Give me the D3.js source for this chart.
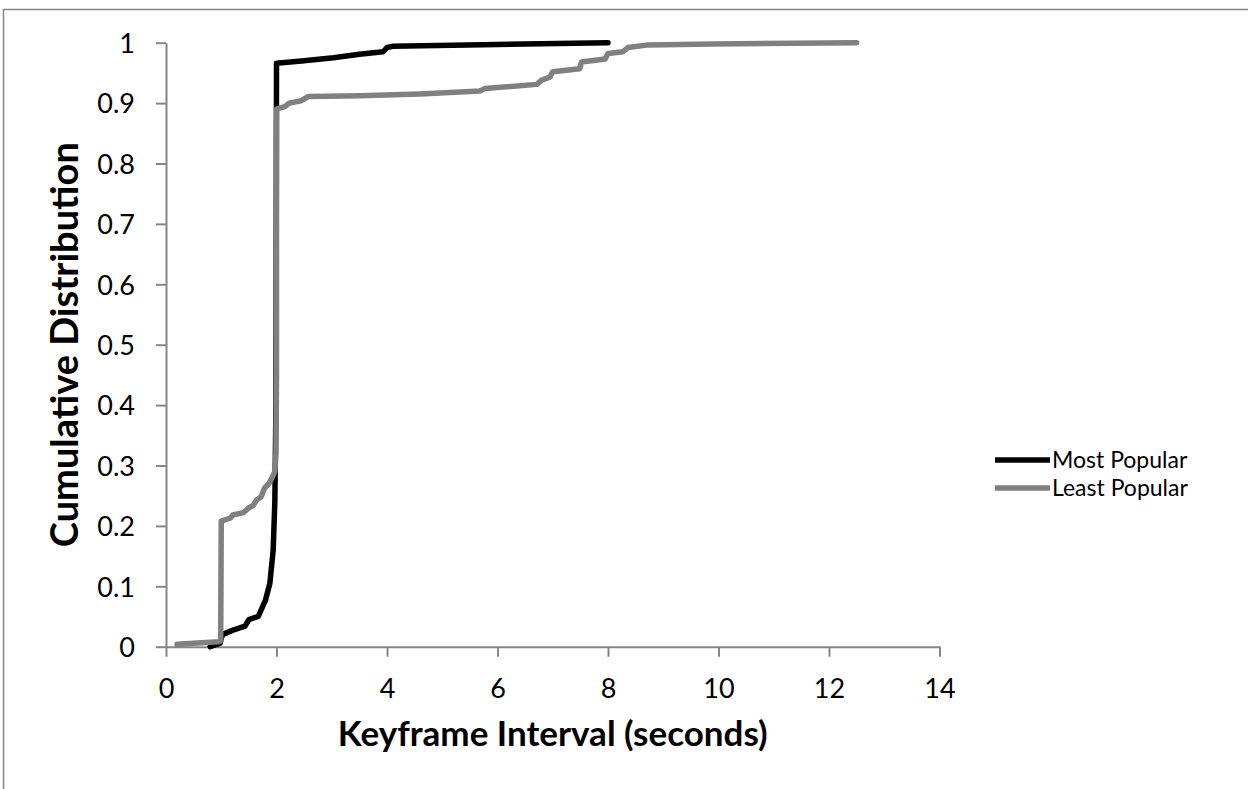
<!DOCTYPE html>
<html>

<head>
    <meta charset="UTF-8">
    <title>Keyframe Interval CDF</title>
    <style>
        body { margin: 0; background: #fff; }
        text { font-family: Lato, "Open Sans", sans-serif; fill: #000; }
    </style>
</head>

<body>

    <svg id="cdf"></svg>

    <script src="https://cdn.jsdelivr.net/npm/d3@7/dist/d3.min.js"></script>
    <script>
        const width = 1248;
        const height = 789;

        // series
        const seriesNames = ['Most Popular', 'Least Popular'];
        const mostX = [0.8, 0.98, 1.02, 1.2, 1.43, 1.5, 1.67, 1.8, 1.88, 1.94, 1.97, 1.99, 2.0, 2.5, 3.03, 3.5, 3.93, 4.0, 4.1, 6, 8];
        const mostY = [0.0, 0.006, 0.02, 0.027, 0.034, 0.045, 0.05, 0.077, 0.105, 0.16, 0.24, 0.4, 0.966, 0.97, 0.975, 0.981, 0.985, 0.992, 0.994, 0.997, 1.0];
        const leastX = [0.2, 0.95, 0.99, 1.0, 1.16, 1.21, 1.4, 1.5, 1.58, 1.64, 1.72, 1.78, 1.86, 1.92, 1.97, 1.99, 2.0, 2.0, 2.15, 2.23, 2.45, 2.58, 3.5, 4.6, 5.68, 5.77, 6.71, 6.8, 6.95, 7.0, 7.49, 7.52, 7.95, 8.0, 8.27, 8.36, 8.7, 9.9, 12.5];
        const leastY = [0.004, 0.008, 0.01, 0.208, 0.213, 0.218, 0.222, 0.23, 0.234, 0.243, 0.248, 0.262, 0.27, 0.28, 0.29, 0.32, 0.45, 0.89, 0.894, 0.9, 0.904, 0.911, 0.912, 0.915, 0.92, 0.924, 0.931, 0.938, 0.943, 0.952, 0.957, 0.968, 0.973, 0.982, 0.985, 0.992, 0.996, 0.998, 1.0];

        const xTicks = [0, 2, 4, 6, 8, 10, 12, 14];
        const yTicks = [0, 0.1, 0.2, 0.3, 0.4, 0.5, 0.6, 0.7, 0.8, 0.9, 1];
        const yTickLabels = ['0', '0.1', '0.2', '0.3', '0.4', '0.5', '0.6', '0.7', '0.8', '0.9', '1'];

        const axisColor = '#868686';
        const colors = ['#000000', '#808080'];

        const svg = d3.select('#cdf')
            .attr('width', width)
            .attr('height', height);

        // chart frame, runs off the right and bottom edges
        svg.append('rect')
            .attr('x', 3.5)
            .attr('y', 9.5)
            .attr('width', 1300)
            .attr('height', 900)
            .style('fill', 'none')
            .style('stroke', axisColor)
            .style('stroke-width', 1.5);

        const x = d3.scaleLinear().domain([0, 14]).range([166, 939.5]);
        const y = d3.scaleLinear().domain([0, 1]).range([646.7, 42.7]);

        const xAxis = svg.append('g')
            .attr('transform', 'translate(0,' + y(0) + ')')
            .call(d3.axisBottom(x).tickValues(xTicks).tickSize(10).tickSizeOuter(0));
        xAxis.selectAll('text')
            .attr('y', 51.5)
            .attr('dy', 0)
            .style('font-size', '27px');

        const yAxis = svg.append('g')
            .attr('transform', 'translate(' + x(0) + ',0)')
            .call(d3.axisLeft(y).tickValues(yTicks)
                .tickFormat((d, i) => yTickLabels[i])
                .tickSize(10).tickPadding(21).tickSizeOuter(0));
        yAxis.selectAll('text')
            .attr('dy', '0.36em')
            .style('font-size', '27px');

        svg.selectAll('.domain, .tick line')
            .style('stroke', axisColor)
            .style('stroke-width', 2);

        // lines
        const line = d3.line()
            .x(d => x(d[0]))
            .y(d => y(d[1]));

        const series = [
            d3.zip(mostX, mostY),
            d3.zip(leastX, leastY)
        ];

        svg.append('g')
            .selectAll('path')
            .data(series)
            .enter()
            .append('path')
            .attr('d', line)
            .style('fill', 'none')
            .style('stroke', (d, i) => colors[i])
            .style('stroke-width', 5.5)
            .style('stroke-linejoin', 'round')
            .style('stroke-linecap', 'round');

        // axis titles
        svg.append('text')
            .attr('x', (x(0) + x(14)) / 2)
            .attr('y', 746)
            .attr('text-anchor', 'middle')
            .style('font-size', '35px')
            .style('font-weight', 'bold')
            .text('Keyframe Interval (seconds)');

        svg.append('text')
            .attr('transform', 'translate(78,' + (y(0) + y(1)) / 2 + ') rotate(-90)')
            .attr('text-anchor', 'middle')
            .style('font-size', '38px')
            .style('font-weight', 'bold')
            .text('Cumulative Distribution');

        // legend
        const legend = svg.append('g')
            .selectAll('g')
            .data(seriesNames)
            .enter()
            .append('g')
            .attr('transform', (d, i) => 'translate(995,' + (460 + i * 28) + ')');

        legend.append('line')
            .attr('x1', 0)
            .attr('x2', 55)
            .style('stroke', (d, i) => colors[i])
            .style('stroke-width', 5.5);

        legend.append('text')
            .attr('x', 57)
            .attr('dy', '0.36em')
            .style('font-size', '23px')
            .text(d => d);
    </script>
</body>

</html>
